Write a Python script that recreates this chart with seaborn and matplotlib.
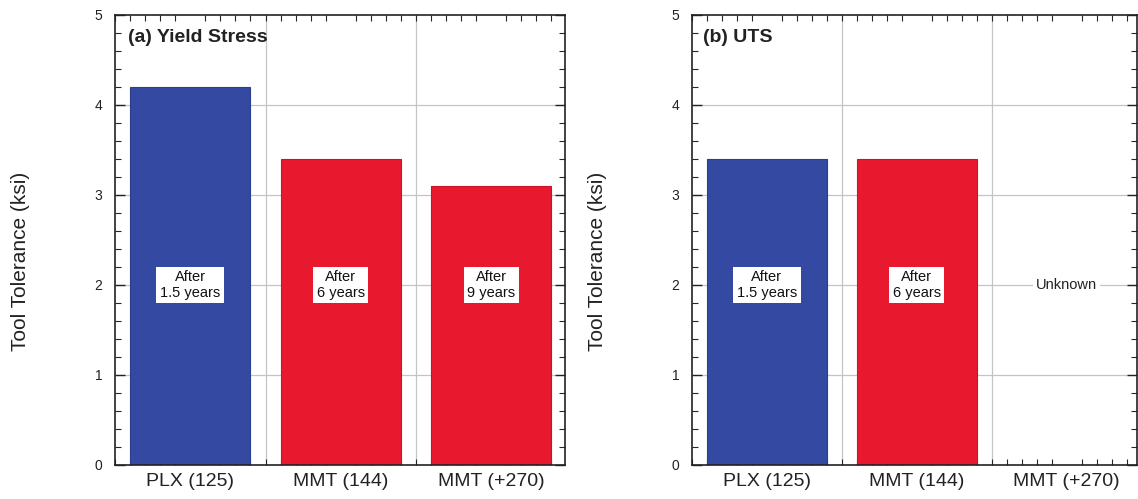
import matplotlib
matplotlib.use("Agg")
import matplotlib.pyplot as plt
from matplotlib.ticker import MultipleLocator
import seaborn as sns
import pandas as pd

# Tool tolerance data (ksi)
categories = ["PLX (125)", "MMT (144)", "MMT (+270)"]
yield_values = [4.2, 3.4, 3.1]
uts_categories = ["PLX (125)", "MMT (144)"]
uts_values = [3.4, 3.4]
yield_notes = ["After\n1.5 years", "After\n6 years", "After\n9 years"]
uts_notes = ["After\n1.5 years", "After\n6 years"]
note_level = 2.0
unknown_label = "Unknown"
panel_titles = ["(a) Yield Stress", "(b) UTS"]
y_label = "Tool Tolerance (ksi)"

palette = {"PLX (125)": "#3449A1", "MMT (144)": "#E8192F", "MMT (+270)": "#E8192F"}
edges = {"PLX (125)": "#2c3d8c", "MMT (144)": "#c81426", "MMT (+270)": "#c81426"}

sns.set_theme(style="white")
plt.rcParams["font.family"] = ["Liberation Sans", "DejaVu Sans"]

fig = plt.figure(figsize=(11.38, 4.99), dpi=100)
W, H = 1138, 499
ax_a = fig.add_axes([115 / W, 1 - 465 / H, 450 / W, 450 / H])
ax_b = fig.add_axes([692 / W, 1 - 465 / H, 445 / W, 450 / H])

df_a = pd.DataFrame({"material": categories, "tol": yield_values})
df_b = pd.DataFrame({"material": uts_categories, "tol": uts_values})


def style_panel(ax, xmax):
    ax.set_ylim(0, 5)
    ax.set_xlim(-0.5, xmax)
    ax.set_xlabel("")
    ax.set_ylabel(y_label, fontsize=15, color="#222222")
    ax.yaxis.set_label_coords(-0.19, 0.453)
    ax.set_yticks(range(0, 6))
    ax.yaxis.set_minor_locator(MultipleLocator(0.2))
    ax.xaxis.set_minor_locator(MultipleLocator(0.1))
    ax.tick_params(axis="y", which="major", direction="in", length=7, width=1,
                   left=True, right=True, labelsize=10, pad=9, colors="#222222")
    ax.tick_params(axis="y", which="minor", direction="in", length=4, width=0.8,
                   left=True, right=True)
    ax.tick_params(axis="x", which="major", length=0, labelsize=14, pad=6,
                   colors="#222222")
    ax.tick_params(axis="x", which="minor", direction="in", length=4, width=0.8,
                   top=True, bottom=True)
    for s in ax.spines.values():
        s.set_visible(True)
        s.set_color("#222222")
        s.set_linewidth(1.2)
    ax.set_axisbelow(True)
    for yv in range(1, 5):
        ax.axhline(yv, color="#c4c4c4", lw=0.9, zorder=0)
    for xv in (0.5, 1.5):
        ax.axvline(xv, color="#c4c4c4", lw=0.9, zorder=0)


box = dict(boxstyle="square,pad=0.25", fc="white", ec="none")

# (a) Yield stress
sns.barplot(data=df_a, x="material", y="tol", hue="material", palette=palette,
            order=categories, width=0.8, saturation=1, legend=False, ax=ax_a,
            zorder=2)
for patch, cat in zip(ax_a.patches, categories):
    patch.set_edgecolor(edges[cat])
    patch.set_linewidth(0.8)
style_panel(ax_a, 2.49)
for i, note in enumerate(yield_notes):
    ax_a.text(i, note_level, note, ha="center", va="center", fontsize=10.5,
              linespacing=1.1, bbox=box, zorder=3, color="#111111")
ax_a.text(0.029, 0.949, panel_titles[0], transform=ax_a.transAxes, fontsize=14,
          fontweight="bold", va="center", ha="left", color="#222222")

# (b) UTS
sns.barplot(data=df_b, x="material", y="tol", hue="material", palette=palette,
            order=categories, width=0.8, saturation=1, legend=False, ax=ax_b,
            zorder=2)
for patch, cat in zip(ax_b.patches, uts_categories):
    patch.set_edgecolor(edges[cat])
    patch.set_linewidth(0.8)
style_panel(ax_b, 2.47)
ax_b.set_xticks(range(len(categories)))
ax_b.set_xticklabels(categories)
for i, note in enumerate(uts_notes):
    ax_b.text(i, note_level, note, ha="center", va="center", fontsize=10.5,
              linespacing=1.1, bbox=box, zorder=3, color="#111111")
ax_b.text(2, note_level, unknown_label, ha="center", va="center", fontsize=10.5,
          bbox=dict(boxstyle="square,pad=0.2", fc="white", ec="none"),
          zorder=3, color="#222222")
ax_b.text(0.025, 0.949, panel_titles[1], transform=ax_b.transAxes, fontsize=14,
          fontweight="bold", va="center", ha="left", color="#222222")

fig.savefig("out.png", dpi=100)
